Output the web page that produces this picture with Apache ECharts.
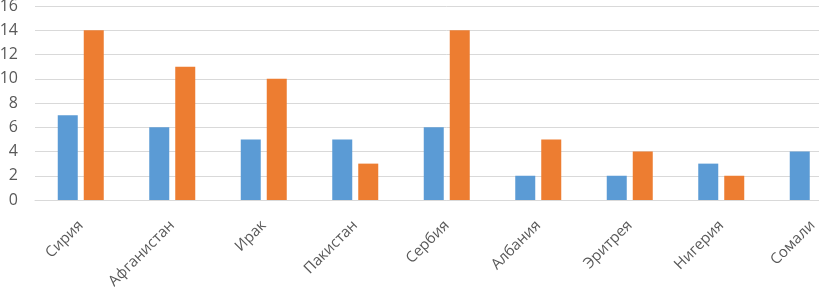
<!DOCTYPE html>
<html>
<head>
<meta charset="utf-8">
<script src="https://cdn.jsdelivr.net/npm/echarts@6/dist/echarts.min.js"></script>
<style>
  html, body { margin: 0; padding: 0; overflow: hidden; background: #fff; }
  #chart { width: 870px; height: 290px; }
</style>
</head>
<body>
<div id="chart"></div>
<script>
var countries = ['Сирия', 'Афганистан', 'Ирак', 'Пакистан', 'Сербия', 'Албания', 'Эритрея', 'Нигерия', 'Сомали'];
var seriesBlue = [7, 6, 5, 5, 6, 2, 2, 3, 4];
var seriesOrange = [14, 11, 10, 3, 14, 5, 4, 2, 0];

var chart = echarts.init(document.getElementById('chart'));
var option = {
    animation: false,
    grid: {
        left: 35,
        right: 11.5,
        top: 6,
        bottom: 90,
        outerBoundsMode: 'none'
    },
    xAxis: {
        type: 'category',
        data: countries,
        axisLine: { lineStyle: { color: '#d9d9d9' } },
        axisTick: { show: false },
        axisLabel: {
            rotate: 45,
            interval: 0,
            margin: 23,
            color: '#595959',
            fontSize: 15,
            fontFamily: 'Open Sans'
        }
    },
    yAxis: {
        type: 'value',
        min: 0,
        max: 16,
        interval: 2,
        axisLine: { show: false },
        axisTick: { show: false },
        splitLine: { lineStyle: { color: '#d9d9d9' } },
        axisLabel: {
            margin: 17,
            color: '#595959',
            fontSize: 16,
            fontFamily: 'Open Sans'
        }
    },
    series: [{
        type: 'bar',
        data: seriesBlue,
        barWidth: 20,
        barGap: '30%',
        itemStyle: { color: '#5b9bd5' }
    }, {
        type: 'bar',
        data: seriesOrange,
        barWidth: 20,
        itemStyle: { color: '#ed7d31' }
    }]
};
chart.setOption(option);
</script>
</body>
</html>
